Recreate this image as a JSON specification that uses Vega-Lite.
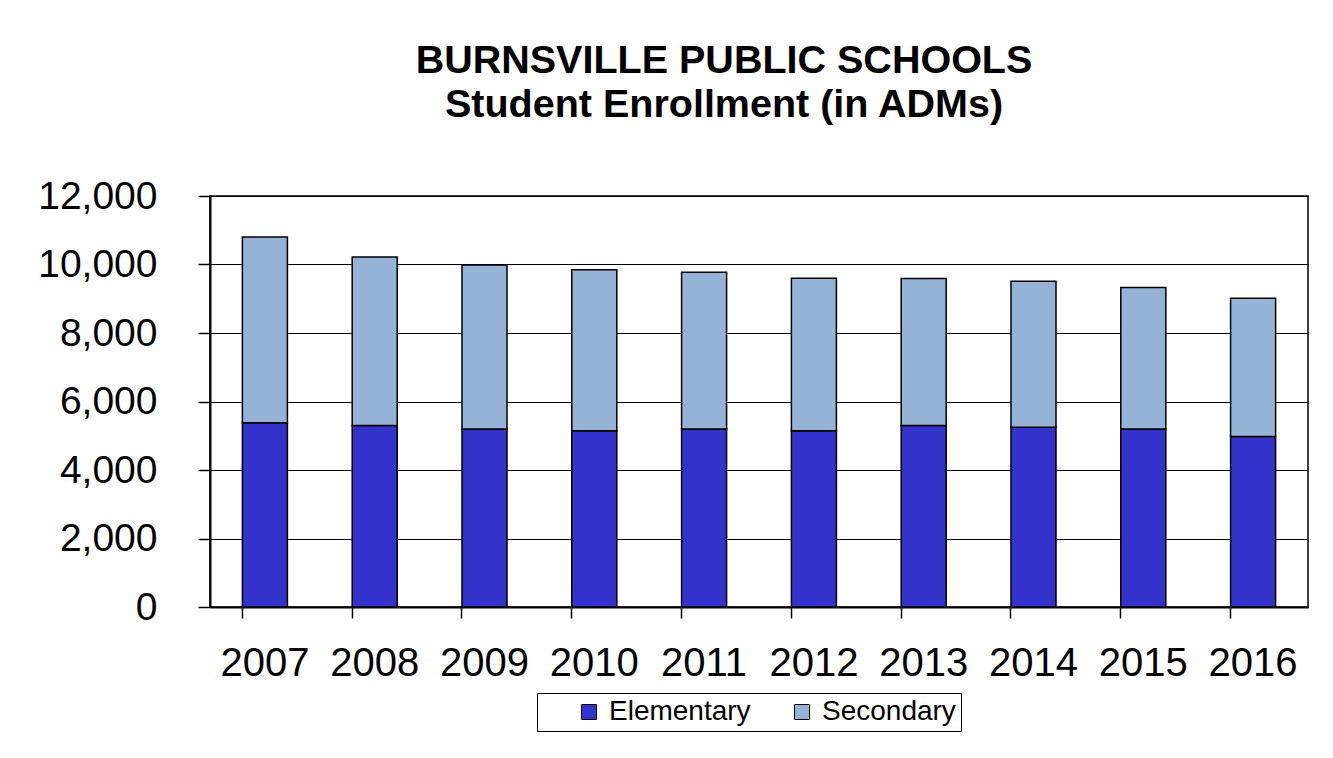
{
  "$schema": "https://vega.github.io/schema/vega-lite/v6.json",
  "autosize": {"type": "none"},
  "width": 1098,
  "height": 411,
  "padding": {"left": 210, "top": 196, "right": 25, "bottom": 151},
  "background": "white",
  "title": {
    "text": ["BURNSVILLE PUBLIC SCHOOLS", "Student Enrollment (in ADMs)"],
    "font": "Liberation Sans",
    "fontSize": 39.5,
    "fontWeight": "bold",
    "color": "black",
    "lineHeight": 44,
    "anchor": "middle",
    "dx": -35,
    "offset": 52
  },
  "data": {
    "values": [
      {"year": "2007", "type": "Elementary", "value": 5380},
      {"year": "2007", "type": "Secondary", "value": 5420},
      {"year": "2008", "type": "Elementary", "value": 5300},
      {"year": "2008", "type": "Secondary", "value": 4920},
      {"year": "2009", "type": "Elementary", "value": 5200},
      {"year": "2009", "type": "Secondary", "value": 4785},
      {"year": "2010", "type": "Elementary", "value": 5145},
      {"year": "2010", "type": "Secondary", "value": 4705},
      {"year": "2011", "type": "Elementary", "value": 5200},
      {"year": "2011", "type": "Secondary", "value": 4575},
      {"year": "2012", "type": "Elementary", "value": 5145},
      {"year": "2012", "type": "Secondary", "value": 4450},
      {"year": "2013", "type": "Elementary", "value": 5300},
      {"year": "2013", "type": "Secondary", "value": 4290},
      {"year": "2014", "type": "Elementary", "value": 5250},
      {"year": "2014", "type": "Secondary", "value": 4260},
      {"year": "2015", "type": "Elementary", "value": 5200},
      {"year": "2015", "type": "Secondary", "value": 4125},
      {"year": "2016", "type": "Elementary", "value": 4975},
      {"year": "2016", "type": "Secondary", "value": 4040}
    ]
  },
  "mark": {"type": "bar", "stroke": "black", "strokeWidth": 1.5},
  "encoding": {
    "x": {
      "field": "year",
      "type": "nominal",
      "scale": {"paddingInner": 0.59, "paddingOuter": 0.295},
      "axis": {
        "title": null,
        "labelAngle": 0,
        "labelFont": "Liberation Sans",
        "labelFontSize": 40,
        "labelColor": "black",
        "labelPadding": 25,
        "bandPosition": 0,
        "tickSize": 11,
        "tickColor": "black",
        "tickWidth": 1.5,
        "domainColor": "black",
        "domainWidth": 2,
        "grid": false
      }
    },
    "y": {
      "field": "value",
      "type": "quantitative",
      "stack": "zero",
      "scale": {"domain": [0, 12000], "nice": false},
      "axis": {
        "title": null,
        "values": [0, 2000, 4000, 6000, 8000, 10000, 12000],
        "format": ",d",
        "labelFont": "Liberation Sans",
        "labelFontSize": 39,
        "labelColor": "black",
        "labelPadding": 41,
        "tickSize": 12,
        "tickColor": "black",
        "tickWidth": 1.5,
        "domainColor": "black",
        "domainWidth": 2,
        "grid": true,
        "gridColor": "black",
        "gridWidth": 1.2
      }
    },
    "order": {"field": "type", "sort": "ascending"},
    "color": {
      "field": "type",
      "type": "nominal",
      "scale": {"domain": ["Elementary", "Secondary"], "range": ["#3333CC", "#95B3D7"]},
      "legend": {
        "title": null,
        "orient": "none",
        "legendX": 327,
        "legendY": 497,
        "direction": "horizontal",
        "symbolType": "square",
        "symbolSize": 225,
        "symbolStrokeColor": "black",
        "symbolStrokeWidth": 1,
        "symbolOffset": 33,
        "labelFont": "Liberation Sans",
        "labelFontSize": 28,
        "labelColor": "black",
        "labelOffset": 6,
        "columnPadding": 4,
        "strokeColor": "black",
        "padding": 5
      }
    }
  },
  "config": {
    "view": {"stroke": "black", "strokeWidth": 1.5}
  }
}
